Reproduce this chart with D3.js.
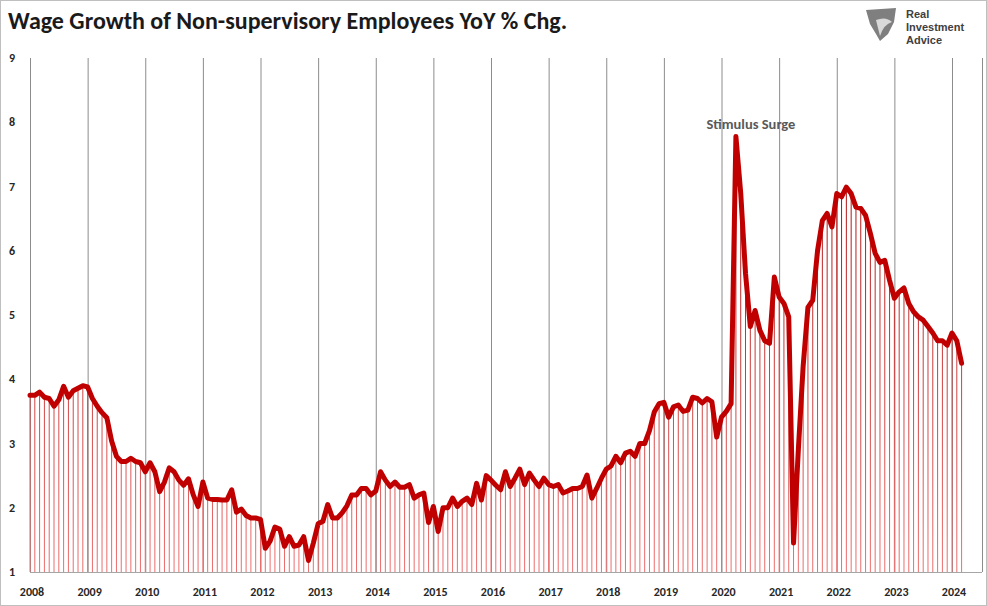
<!DOCTYPE html>
<html><head><meta charset="utf-8">
<script src="https://cdn.jsdelivr.net/npm/d3@7"></script>
<style>body{margin:0;background:#fff}svg{display:block;font-family:Calibri,Carlito,"Liberation Sans",Arial,sans-serif}</style>
</head><body><svg id="c" width="987" height="606"></svg>
<script>
// monthly YoY % change, Jan 2008 .. Mar 2024
const startYear = 2008;
const wageGrowth = [
  3.75,3.75,3.8,3.72,3.7,3.58,3.68,3.89,3.72,3.82,3.86,3.9,
  3.88,3.7,3.58,3.48,3.4,3.04,2.8,2.72,2.72,2.77,2.72,2.7,
  2.56,2.7,2.56,2.25,2.4,2.62,2.56,2.43,2.35,2.45,2.2,2.02,
  2.4,2.15,2.13,2.13,2.12,2.12,2.28,1.93,1.98,1.88,1.84,1.84,
  1.82,1.37,1.48,1.7,1.67,1.4,1.55,1.4,1.42,1.55,1.18,1.45,
  1.75,1.79,2.05,1.84,1.84,1.92,2.03,2.2,2.2,2.3,2.3,2.2,
  2.26,2.56,2.43,2.33,2.4,2.32,2.32,2.36,2.15,2.2,2.23,1.77,
  2.02,1.63,2.0,2.0,2.15,2.02,2.1,2.15,2.05,2.38,2.12,2.5,
  2.43,2.35,2.28,2.56,2.33,2.46,2.6,2.36,2.54,2.43,2.33,2.46,
  2.36,2.33,2.36,2.23,2.26,2.3,2.3,2.33,2.51,2.15,2.3,2.46,
  2.6,2.65,2.8,2.7,2.85,2.88,2.8,3.0,3.0,3.2,3.49,3.62,
  3.64,3.41,3.57,3.6,3.5,3.52,3.72,3.7,3.63,3.7,3.65,3.1,
  3.41,3.5,3.62,7.78,6.9,5.65,4.82,5.07,4.76,4.6,4.56,5.59,
  5.28,5.18,4.97,1.45,2.9,4.2,5.12,5.23,6.0,6.47,6.58,6.37,
  6.89,6.84,6.99,6.89,6.68,6.66,6.55,6.27,5.96,5.82,5.85,5.54,
  5.26,5.36,5.42,5.18,5.05,4.97,4.92,4.82,4.72,4.6,4.6,4.53,
  4.72,4.6,4.25
];
const yearLabels = d3.range(2008, 2025);
const yTicks = [1,2,3,4,5,6,7,8,9];
const annotation = {text: "Stimulus Surge", value: 7.78};

const svg = d3.select("#c");
const x = d3.scaleLinear().domain([0, 192]).range([30, 952]);
const y = d3.scaleLinear().domain([1, 9]).range([572, 58]);
const data = wageGrowth.map((v, i) => ({i, v}));

// frame
svg.append("rect").attr("x", 0.5).attr("y", 0.5).attr("width", 986).attr("height", 605)
  .attr("fill", "none").attr("stroke", "#bfbfbf");

const grad = svg.append("defs").append("linearGradient").attr("id", "g")
  .attr("gradientUnits", "userSpaceOnUse").attr("x1", 0).attr("x2", 0)
  .attr("y1", y(7.8)).attr("y2", y(1));
grad.append("stop").attr("offset", 0).attr("stop-color", "#a80000");
grad.append("stop").attr("offset", 1).attr("stop-color", "#ee6f6f");

// year gridlines
svg.append("g").selectAll("line").data(yearLabels).join("line")
  .attr("x1", d => x((d - startYear) * 12) + 0.5).attr("x2", d => x((d - startYear) * 12) + 0.5)
  .attr("y1", y(9)).attr("y2", y(1)).attr("stroke", "#8c8c8c").attr("stroke-width", 1);
svg.append("line").attr("x1", 982.5).attr("x2", 982.5).attr("y1", y(9)).attr("y2", y(1))
  .attr("stroke", "#8c8c8c");

// drop lines
svg.append("g").selectAll("line").data(data).join("line")
  .attr("x1", d => x(d.i)).attr("x2", d => x(d.i))
  .attr("y1", d => y(d.v)).attr("y2", y(1))
  .attr("stroke", "url(#g)").attr("stroke-width", 1);

// baseline
svg.append("line").attr("x1", 30).attr("x2", 982).attr("y1", y(1) + 0.5).attr("y2", y(1) + 0.5)
  .attr("stroke", "#a6a6a6");

// main line
svg.append("path").datum(data)
  .attr("d", d3.line().x(d => x(d.i)).y(d => y(d.v)))
  .attr("fill", "none").attr("stroke", "#c00000").attr("stroke-width", 5)
  .attr("stroke-linejoin", "round").attr("stroke-linecap", "round");

// y labels
svg.append("g").selectAll("text").data(yTicks).join("text")
  .attr("x", 12).attr("y", d => y(d) + 4).attr("text-anchor", "middle")
  .attr("font-size", 12).attr("font-weight", "bold").attr("fill", "#262626").text(d => d);

// x labels
svg.append("g").selectAll("text").data(yearLabels).join("text")
  .attr("x", d => x((d - startYear) * 12) + 2).attr("y", 596).attr("text-anchor", "middle")
  .attr("font-size", 12).attr("font-weight", "bold").attr("fill", "#262626").text(d => d);

// annotation
const peakIdx = wageGrowth.indexOf(annotation.value);
svg.append("text").attr("x", x(peakIdx) + 15).attr("y", 129).attr("text-anchor", "middle")
  .attr("font-size", 14.5).attr("font-weight", "bold").attr("fill", "#595959").text(annotation.text);

// title
svg.append("text").attr("x", 8).attr("y", 29).attr("font-size", 24).attr("font-weight", "bold")
  .attr("fill", "#1a1a1a").text("Wage Growth of Non-supervisory Employees YoY % Chg.");

// logo
const logo = svg.append("g").attr("transform", "translate(866,8)");
logo.append("path").attr("d", "M0,2 L30,0 L28,14 L22,26 L14,33 L10,26 L4,16 Z").attr("fill", "#7f7f7f");
logo.append("path").attr("d", "M10,12 Q20,8 26,14 Q18,16 14,28 Z").attr("fill", "#d9d9d9");
["Real", "Investment", "Advice"].forEach((t, i) =>
  logo.append("text").attr("x", 40).attr("y", 10 + i * 13).attr("font-size", 11)
    .attr("font-weight", "bold").attr("font-family", "Arial,'Liberation Sans',sans-serif")
    .attr("fill", "#404040").text(t));
</script></body></html>
